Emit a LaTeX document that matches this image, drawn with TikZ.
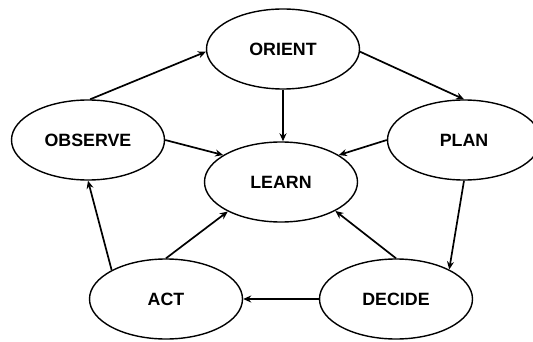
\documentclass[tikz,border=0pt]{standalone}
\usepackage{fontspec}
\setmainfont{Liberation Sans}
\usetikzlibrary{shapes.geometric,arrows.meta}
\begin{document}
\begin{tikzpicture}[x=1pt,y=-1pt,
  stage/.style={ellipse,draw,line width=1.4pt,minimum width=153pt,minimum height=80pt,inner sep=0pt,
    font=\fontsize{17.8}{20}\selectfont\bfseries},
  flow/.style={line width=1.7pt,-{Stealth[length=8pt,width=7pt]}}]
\useasboundingbox (0,0) rectangle (533,342);
\node[stage] (ori) at (283,49) {ORIENT};
\node[stage] (obs) at (88,140) {OBSERVE};
\node[stage] (pla) at (464,140) {PLAN};
\node[stage] (lea) at (281,182) {LEARN};
\node[stage] (act) at (166,299) {ACT};
\node[stage] (dec) at (396,299) {DECIDE};
\draw[flow] (obs.87) -- (ori.182);
\draw[flow] (ori.358) -- (pla.90);
\draw[flow] (ori.south) -- (ori.south |- lea.north);
\draw[flow] (obs.0) -- (lea.155);
\draw[flow] (pla.180) -- (lea.25);
\draw[flow] (pla.270) -- (dec.29);
\draw[flow] (dec.90) -- (lea.332);
\draw[flow] (dec.west) -- (act.east);
\draw[flow] (act.90) -- (lea.209);
\draw[flow] (act.152) -- (obs.270);
\end{tikzpicture}
\end{document}
